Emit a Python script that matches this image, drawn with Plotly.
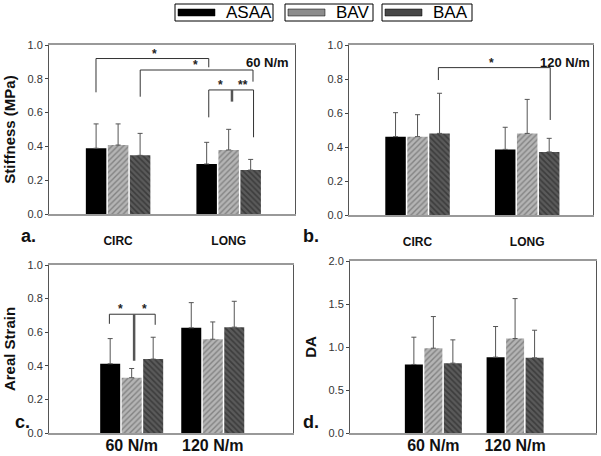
import plotly.graph_objects as go

# ---------------- data ----------------
groups = ["ASAA", "BAV", "BAA"]
dir_labels = ["CIRC", "LONG"]
load_labels = ["60 N/m", "120 N/m"]

# a. Stiffness at 60 N/m
stiff60_asaa = [0.389, 0.296]
stiff60_bav = [0.408, 0.379]
stiff60_baa = [0.347, 0.260]
stiff60_asaa_err = [0.144, 0.128]
stiff60_bav_err = [0.125, 0.122]
stiff60_baa_err = [0.130, 0.063]

# b. Stiffness at 120 N/m
stiff120_asaa = [0.461, 0.386]
stiff120_bav = [0.461, 0.480]
stiff120_baa = [0.480, 0.371]
stiff120_asaa_err = [0.141, 0.130]
stiff120_bav_err = [0.129, 0.200]
stiff120_baa_err = [0.236, 0.080]

# c. Areal strain
strain_asaa = [0.412, 0.626]
strain_bav = [0.329, 0.558]
strain_baa = [0.440, 0.630]
strain_asaa_err = [0.150, 0.150]
strain_bav_err = [0.055, 0.103]
strain_baa_err = [0.130, 0.154]

# d. DA
da_asaa = [0.797, 0.882]
da_bav = [0.986, 1.099]
da_baa = [0.812, 0.874]
da_asaa_err = [0.317, 0.356]
da_bav_err = [0.368, 0.464]
da_baa_err = [0.271, 0.321]

# significance brackets (data coordinates of each panel)
brackets_a = [
    [(-0.2, 0.72, -0.2, 0.92), (-0.2, 0.92, 0.82, 0.92), (0.82, 0.92, 0.82, 0.868)],
    [(0.2, 0.694, 0.2, 0.852), (0.2, 0.852, 1.22, 0.852), (1.22, 0.852, 1.22, 0.783)],
    [(0.82, 0.572, 0.82, 0.734), (0.82, 0.734, 1.225, 0.734), (1.225, 0.734, 1.225, 0.454)],
]
thick_a = [(1.03, 0.734, 1.03, 0.665)]
stars_a = [(0.325, 0.92, "*"), (0.70, 0.852, "*"), (0.93, 0.734, "*"), (1.13, 0.734, "**")]

brackets_b = [
    [(0.19, 0.794, 0.19, 0.867), (0.19, 0.867, 1.21, 0.867), (1.21, 0.867, 1.21, 0.559)],
]
stars_b = [(0.67, 0.867, "*")]

brackets_c = [
    [(-0.275, 0.65, -0.275, 0.707), (-0.275, 0.707, 0.29, 0.707), (0.29, 0.707, 0.29, 0.644)],
]
thick_c = [(0.03, 0.707, 0.03, 0.43)]
stars_c = [(-0.14, 0.707, "*"), (0.16, 0.707, "*")]

# ---------------- styling ----------------
styles = {
    "ASAA": dict(color="#000000", pattern=None, swatch="#000000"),
    "BAV": dict(color="#a8a8a8", pattern=dict(shape="/", fgcolor="#505050", bgcolor="#b4b4b4", size=4, solidity=0.35),
                swatch="#8c8c8c"),
    "BAA": dict(color="#4a4a4a", pattern=dict(shape="\\", fgcolor="#1e1e1e", bgcolor="#5a5a5a", size=4, solidity=0.4),
                swatch="#474747"),
}

W, H = 601, 456
panels = {
    "a": dict(xd=[49, 295], yd=[45, 214], xr=[-0.625, 1.6], step=22),
    "b": dict(xd=[349, 593], yd=[45, 215], xr=[-0.625, 1.6], step=22),
    "c": dict(xd=[49, 293], yd=[265, 433], xr=[-1.02, 1.99], step=21.5),
    "d": dict(xd=[350, 596], yd=[261, 433], xr=[-1.02, 1.99], step=19.5),
}
axis_names = {"a": ("x", "y"), "b": ("x2", "y2"), "c": ("x3", "y3"), "d": ("x4", "y4")}

panel_data = {
    "a": ([stiff60_asaa, stiff60_bav, stiff60_baa], [stiff60_asaa_err, stiff60_bav_err, stiff60_baa_err]),
    "b": ([stiff120_asaa, stiff120_bav, stiff120_baa], [stiff120_asaa_err, stiff120_bav_err, stiff120_baa_err]),
    "c": ([strain_asaa, strain_bav, strain_baa], [strain_asaa_err, strain_bav_err, strain_baa_err]),
    "d": ([da_asaa, da_bav, da_baa], [da_asaa_err, da_bav_err, da_baa_err]),
}

fig = go.Figure()
for pk, p in panels.items():
    xa, ya = axis_names[pk]
    units_per_px = (p["xr"][1] - p["xr"][0]) / (p["xd"][1] - p["xd"][0])
    step = p["step"] * units_per_px
    bw = (p["step"] - 1.5) * units_per_px
    vals, errs = panel_data[pk]
    for i, g in enumerate(groups):
        st = styles[g]
        marker = dict(color=st["color"], line=dict(width=0))
        if st["pattern"]:
            marker["pattern"] = st["pattern"]
        fig.add_trace(go.Bar(
            x=[0, 1], y=vals[i], name=g,
            xaxis=xa, yaxis=ya,
            width=bw, offset=(i - 1) * step - bw / 2,
            marker=marker,
            error_y=dict(type="data", array=errs[i], arrayminus=[0, 0], symmetric=False,
                         color="#555555", thickness=1, width=2.5),
            showlegend=False,
        ))

layout = dict(
    width=W, height=H, margin=dict(l=0, r=0, t=0, b=0, autoexpand=False),
    paper_bgcolor="white", plot_bgcolor="white",
    barmode="overlay",
    font=dict(family="Arial, Liberation Sans, sans-serif", color="#222"),
)

ytitles = {"a": "<b>Stiffness (MPa)</b>", "b": "", "c": "<b>Areal Strain</b>", "d": "<b>DA</b>"}
yranges = {"a": [0, 1], "b": [0, 1], "c": [0, 1], "d": [0, 2]}
ydticks = {"a": 0.2, "b": 0.2, "c": 0.2, "d": 0.5}
xlabels = {"a": dir_labels, "b": dir_labels, "c": load_labels, "d": load_labels}

for pk, p in panels.items():
    xa, ya = axis_names[pk]
    xkey = "xaxis" + xa[1:]
    ykey = "yaxis" + ya[1:]
    small = pk in ("a", "b")
    xax = dict(
        domain=[p["xd"][0] / W, p["xd"][1] / W],
        range=p["xr"], anchor=ya, tickvals=[0, 1],
        ticktext=["<b>%s</b>" % t for t in xlabels[pk]],
        tickfont=dict(size=12 if small else 16, color="#111"),
        showline=True, linecolor="#999", linewidth=1.5, mirror=True,
        showgrid=False, zeroline=False, fixedrange=True, automargin=False,
    )
    if small:
        xax.update(ticks="outside", ticklen=15, tickcolor="rgba(0,0,0,0)")
    else:
        xax.update(ticks="", ticklabelstandoff=-3)
    layout[xkey] = xax
    layout[ykey] = dict(
        domain=[1 - p["yd"][1] / H, 1 - p["yd"][0] / H],
        range=yranges[pk], anchor=xa, dtick=ydticks[pk], tickformat=".1f",
        tickfont=dict(size=11, color="#333"),
        ticks="outside", ticklen=3, tickcolor="#444",
        showline=True, linecolor="#555", linewidth=1, mirror=True,
        showgrid=False, zeroline=False, automargin=False,
        title=dict(text=ytitles[pk], font=dict(size=15, color="#111"), standoff=8),
    )

shapes = []
annotations = []

# legend (three framed boxes with swatch and label)
legend_boxes = {"ASAA": (175, 273), "BAV": (285, 373), "BAA": (382, 472)}
for g in groups:
    bx0, bx1 = legend_boxes[g]
    shapes.append(dict(type="rect", xref="paper", yref="paper", x0=bx0 / W, x1=bx1 / W,
                       y0=1 - 21 / H, y1=1 - 4 / H, line=dict(color="#000", width=1), fillcolor="white"))
    shapes.append(dict(type="rect", xref="paper", yref="paper", x0=(bx0 + 3) / W, x1=(bx0 + 40) / W,
                       y0=1 - 16 / H, y1=1 - 9 / H, line=dict(color="#000", width=0.5),
                       fillcolor=styles[g]["swatch"]))
    annotations.append(dict(xref="paper", yref="paper", x=(bx0 + 49) / W, y=1 - 12.5 / H, text=g,
                            showarrow=False, xanchor="left", yanchor="middle",
                            font=dict(size=17, color="#000")))


def add_brackets(xa, ya, brackets, thick, stars):
    for br in brackets:
        for (x0, y0, x1, y1) in br:
            shapes.append(dict(type="line", xref=xa, yref=ya, x0=x0, y0=y0, x1=x1, y1=y1,
                               line=dict(color="#333", width=1)))
    for (x0, y0, x1, y1) in thick:
        shapes.append(dict(type="line", xref=xa, yref=ya, x0=x0, y0=y0, x1=x1, y1=y1,
                           line=dict(color="#555", width=2.5)))
    for (x, y, t) in stars:
        annotations.append(dict(xref=xa, yref=ya, x=x, y=y, text="<b>%s</b>" % t, showarrow=False,
                                yanchor="bottom", yshift=-4, font=dict(size=12, color="#222")))


add_brackets("x", "y", brackets_a, thick_a, stars_a)
add_brackets("x2", "y2", brackets_b, [], stars_b)
add_brackets("x3", "y3", brackets_c, thick_c, stars_c)

# panel load labels
annotations.append(dict(xref="paper", yref="paper", x=291 / W, y=1 - 53 / H, text="<b>60 N/m</b>",
                        showarrow=False, xanchor="right", font=dict(size=13, color="#111")))
annotations.append(dict(xref="paper", yref="paper", x=592 / W, y=1 - 53 / H, text="<b>120 N/m</b>",
                        showarrow=False, xanchor="right", font=dict(size=13, color="#111")))

# panel letters
for letter, (px, py) in {"a.": (19, 236), "b.": (311, 236), "c.": (13, 434), "d.": (311, 434)}.items():
    annotations.append(dict(xref="paper", yref="paper", x=px / W, y=1 - py / H, text="<b>%s</b>" % letter,
                            showarrow=False, font=dict(size=18, color="#111")))

layout["shapes"] = shapes
layout["annotations"] = annotations
fig.update_layout(**layout)
fig.write_html("out.html", config={"displayModeBar": False},
               post_script="document.body.style.margin='0';document.body.style.overflow='hidden';")
